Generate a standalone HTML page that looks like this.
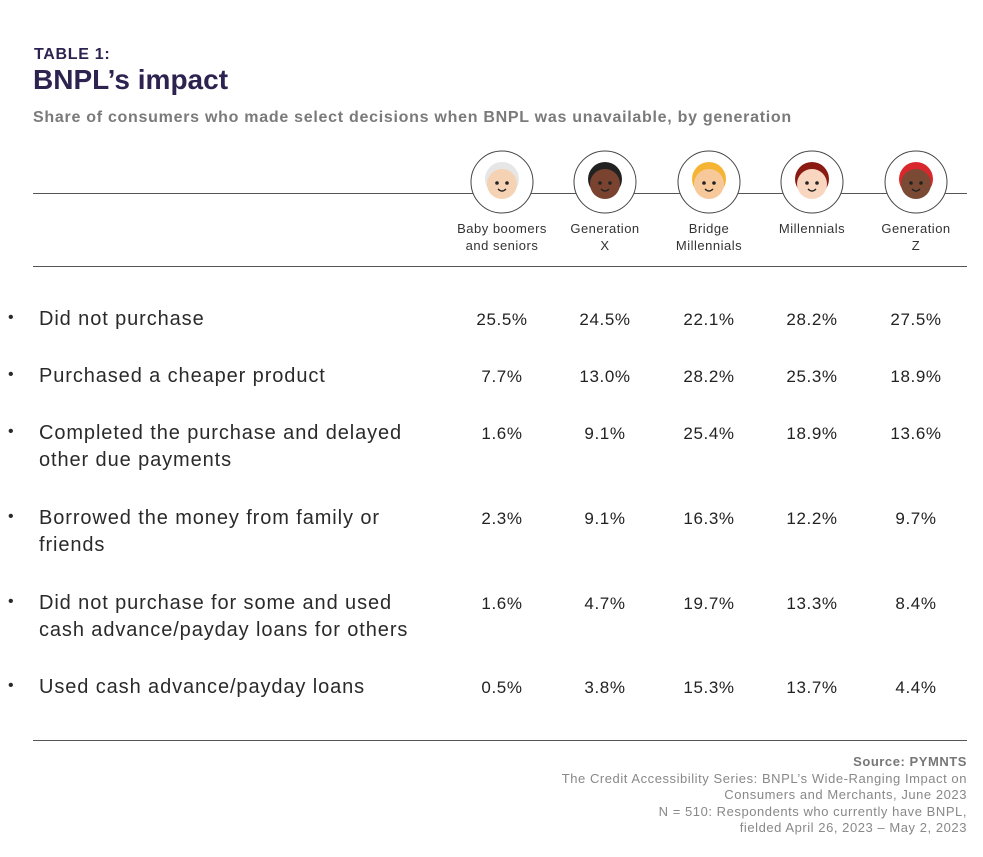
<!DOCTYPE html>
<html><head><meta charset="utf-8"><style>
body{margin:0;background:#fff;font-family:"Liberation Sans",sans-serif;}
#c{position:relative;width:983px;height:857px;overflow:hidden;}
.a{position:absolute;}
.t1{left:34px;top:46px;font-size:16px;font-weight:bold;color:#2e2350;letter-spacing:0.7px}
.t2{left:33px;top:64px;font-size:28px;font-weight:bold;color:#2e2350}
.sub{left:33px;top:109px;font-size:16px;font-weight:bold;color:#7a7a7a;letter-spacing:0.72px}
.hl{height:1px;background:#555;left:33px;width:934px}
.hd{font-size:13px;color:#333;text-align:center;width:120px;line-height:17px;letter-spacing:0.5px}
.lab{left:39px;font-size:20px;color:#2a2a2a;line-height:27px;width:450px;letter-spacing:0.9px}
.bul{left:8px;font-size:16px;color:#2a2a2a}
.val{font-size:17px;color:#222;text-align:center;width:90px;letter-spacing:0.6px}
.src{right:16px;text-align:right;font-size:13px;color:#888;line-height:16.5px;top:754px;letter-spacing:0.55px}
</style></head><body>
<div id="c">
<div class="a t1">TABLE 1:</div>
<div class="a t2">BNPL’s impact</div>
<div class="a sub">Share of consumers who made select decisions when BNPL was unavailable, by generation</div>
<div class="a hl" style="top:193px"></div>
<div class="a hl" style="top:266px"></div>
<div class="a hl" style="top:740px"></div>
<div class="a src"><b style="color:#777">Source: PYMNTS</b><br>The Credit Accessibility Series: BNPL’s Wide-Ranging Impact on<br>Consumers and Merchants, June 2023<br>N = 510: Respondents who currently have BNPL,<br>fielded April 26, 2023 – May 2, 2023</div>
</div>
<script>
const generations=["Baby boomers<br>and seniors","Generation<br>X","Bridge<br>Millennials","Millennials","Generation<br>Z"];
const rowLabels=["Did not purchase","Purchased a cheaper product","Completed the purchase and delayed<br>other due payments","Borrowed the money from family or<br>friends","Did not purchase for some and used<br>cash advance/payday loans for others","Used cash advance/payday loans"];
const boomers=[25.5,7.7,1.6,2.3,1.6,0.5];
const genX=[24.5,13.0,9.1,9.1,4.7,3.8];
const bridge=[22.1,28.2,25.4,16.3,19.7,15.3];
const millennials=[28.2,25.3,18.9,12.2,13.3,13.7];
const genZ=[27.5,18.9,13.6,9.7,8.4,4.4];
const series=[boomers,genX,bridge,millennials,genZ];
const colX=[502,605,709,812,916];
const rowY=[306,363,420,505,590,674];
const skins=["#f6d2b4","#7a4330","#f7c99a","#f8d6bf","#7b4a35"];
const hairs=["#e6e6e6","#222","#f5b433","#8b1a12","#d9272e"];
const c=document.getElementById('c');
generations.forEach((g,i)=>{
  const x=colX[i];
  const ic=document.createElementNS('http://www.w3.org/2000/svg','svg');
  
  
  ic.setAttribute('width','66');ic.setAttribute('height','66');
  ic.style.cssText=`position:absolute;left:${x-33}px;top:149px`;
  ic.innerHTML=`<circle cx="33" cy="33" r="31" fill="#fff" stroke="#444" stroke-width="1"/><circle cx="33" cy="30" r="17" fill="${hairs[i]}"/><circle cx="33" cy="35" r="15" fill="${skins[i]}"/><circle cx="28" cy="34" r="1.8" fill="#222"/><circle cx="38" cy="34" r="1.8" fill="#222"/><path d="M29 40 q4 4 8 0" stroke="#222" fill="none" stroke-width="1.3"/>`;
  c.appendChild(ic);
  const h=document.createElement('div');
  
  
  h.className='a hd';h.style.left=(x-60)+'px';h.style.top='220px';h.innerHTML=g;
  c.appendChild(h);
});
rowLabels.forEach((l,r)=>{
  const b=document.createElement('div');
  
  
  b.className='a bul';b.style.top=(rowY[r]+3)+'px';b.textContent='•';c.appendChild(b);
  const d=document.createElement('div');
  
  
  d.className='a lab';d.style.top=rowY[r]+'px';d.innerHTML=l;c.appendChild(d);
  series.forEach((s,i)=>{
    const v=document.createElement('div');
    
    
    v.className='a val';v.style.left=(colX[i]-45)+'px';v.style.top=(rowY[r]+4)+'px';
    v.textContent=s[r].toFixed(1)+'%';c.appendChild(v);
  });
});
</script>
</body></html>
